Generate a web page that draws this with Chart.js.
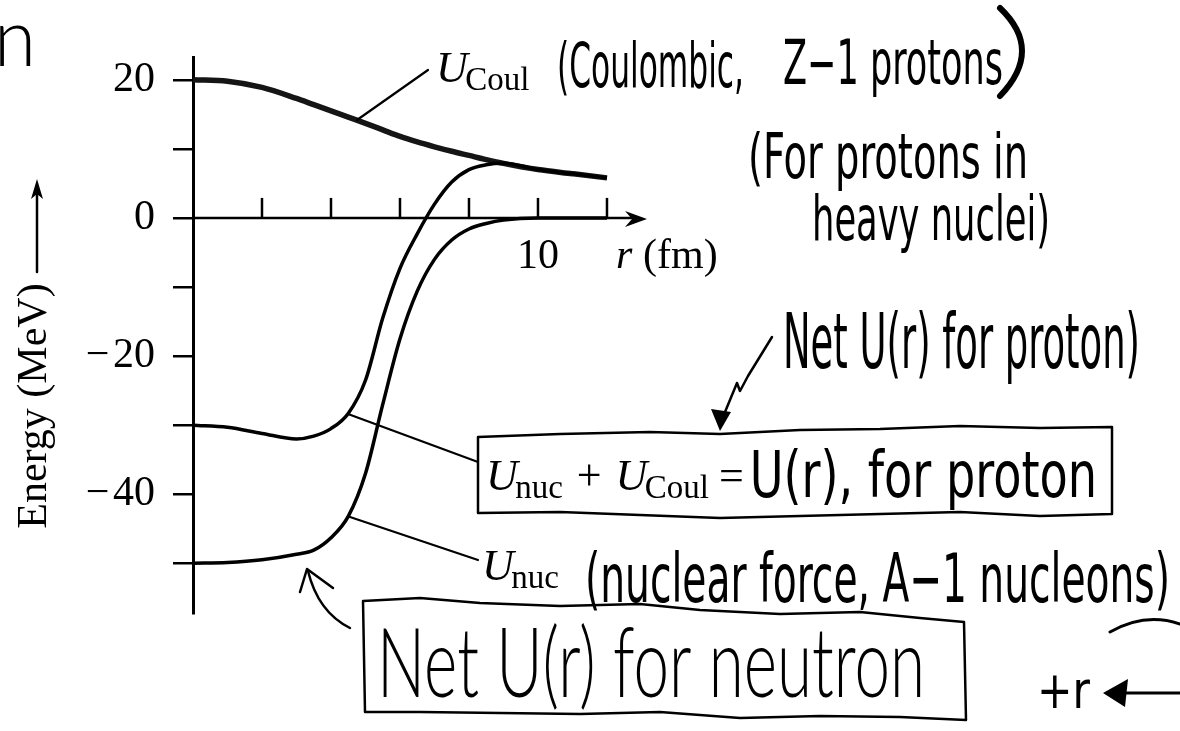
<!DOCTYPE html>
<html>
<head>
<meta charset="utf-8">
<title>Nuclear potential for a proton</title>
<script src="https://cdn.jsdelivr.net/npm/chart.js@4.4.1/dist/chart.umd.min.js"></script>
<style>
html, body { margin: 0; padding: 0; background: #fff; }
#wrap { width: 1180px; height: 731px; }
</style>
</head>
<body>
<div id="wrap"><canvas id="potChart" width="1180" height="731"></canvas></div>
<script>
// radius samples in fm, shared by the three curves
const rValues    = [0, 1, 2, 3, 3.5, 4, 4.5, 5, 5.5, 6, 6.5, 7, 7.5, 8, 8.5, 9, 10, 11, 12];
// energies in MeV
const uCoul      = [20, 19.8, 18.9, 17.3, 16.4, 15.5, 14.6, 13.7, 12.75, 11.8, 11.0, 10.3, 9.65, 9.05, 8.45, 7.9, 7.0, 6.4, 5.8];
const uNuc       = [-50, -49.9, -49.5, -48.7, -48.1, -46.3, -43.2, -37.0, -27.0, -17.5, -10.6, -6.0, -3.2, -1.6, -0.8, -0.3, 0, 0, 0];
const uNetProton = [-30, -30.3, -31.2, -32.0, -31.6, -30.5, -28.3, -23.5, -14.5, -7.3, -2.3, 2.0, 5.2, 7.0, 7.7, 7.9, 7.0, 6.4, 5.8];

const yTickValues = [-50, -40, -30, -20, -10, 0, 10, 20];
const yTickLabels = { '20': '20', '0': '0', '-20': '\u2212\u200a20', '-40': '\u2212\u200a40' };
const xTickValues = [2, 4, 6, 8, 10, 12];
const xTickLabels = { '10': '10' };

const SERIF = '"Liberation Serif", "DejaVu Serif", serif';
const HAND = '"Liberation Sans Narrow", "DejaVu Sans Condensed", sans-serif';

const toPoints = ys => rValues.map((r, i) => ({ x: r, y: ys[i] }));

// handwriting: squeeze the text into a given width
function hand(ctx, text, x, base, width, size, weight, family) {
  ctx.save();
  ctx.font = (weight || 400) + ' ' + size + 'px ' + (family || HAND);
  const w = ctx.measureText(text).width;
  ctx.translate(x, base);
  ctx.scale(width / w, 1);
  ctx.textAlign = 'left';
  ctx.textBaseline = 'alphabetic';
  ctx.fillText(text, 0, 0);
  ctx.restore();
}

// italic U with roman subscript, returns the x where it ends
function uSym(ctx, x, base, sub, size) {
  ctx.textAlign = 'left';
  ctx.textBaseline = 'alphabetic';
  ctx.font = 'italic ' + size + 'px ' + SERIF;
  ctx.fillText('U', x, base);
  const sx = x + ctx.measureText('U').width - size * 0.06;
  ctx.font = Math.round(size * 0.75) + 'px ' + SERIF;
  ctx.fillText(sub, sx, base + size * 0.18);
  return sx + ctx.measureText(sub).width;
}

function poly(ctx, pts, close) {
  ctx.beginPath();
  ctx.moveTo(pts[0][0], pts[0][1]);
  for (let i = 1; i < pts.length; i++) ctx.lineTo(pts[i][0], pts[i][1]);
  if (close) ctx.closePath();
  ctx.stroke();
}

// r axis drawn through U = 0, with ticks pointing up and an arrow
const rAxis = {
  id: 'rAxis',
  beforeDatasetsDraw(chart) {
    const { ctx, scales: { x, y } } = chart;
    const y0 = y.getPixelForValue(0);
    const x0 = x.getPixelForValue(0);
    const xEnd = x.getPixelForValue(x.max);
    ctx.save();
    ctx.strokeStyle = '#000';
    ctx.fillStyle = '#000';
    ctx.lineWidth = 2.5;
    ctx.beginPath();
    ctx.moveTo(x0, y0);
    ctx.lineTo(xEnd - 8, y0);
    ctx.stroke();
    ctx.beginPath();
    ctx.moveTo(xEnd, y0 + 1);
    ctx.lineTo(xEnd - 22, y0 - 7);
    ctx.lineTo(xEnd - 15, y0 + 1);
    ctx.lineTo(xEnd - 22, y0 + 9);
    ctx.closePath();
    ctx.fill();

    ctx.lineWidth = 2.5;
    ctx.font = '42px ' + SERIF;
    ctx.textAlign = 'center';
    ctx.textBaseline = 'alphabetic';
    xTickValues.forEach(v => {
      const px = x.getPixelForValue(v);
      ctx.beginPath();
      ctx.moveTo(px, y0);
      ctx.lineTo(px, y0 - 20);
      ctx.stroke();
      if (xTickLabels[v]) ctx.fillText(xTickLabels[v], px, y0 + 50);
    });

    // axis name
    ctx.textAlign = 'left';
    ctx.font = 'italic 42px ' + SERIF;
    ctx.fillText('r', 616, y0 + 50);
    ctx.font = '42px ' + SERIF;
    ctx.fillText('(fm)', 643, y0 + 50);
    ctx.restore();
  }
};

// energy axis title, labels and the pencil notes
const notes = {
  id: 'notes',
  afterDraw(chart) {
    const ctx = chart.ctx;
    ctx.save();
    ctx.fillStyle = '#000';
    ctx.strokeStyle = '#000';
    ctx.lineCap = 'round';
    ctx.lineJoin = 'round';

    // Energy (MeV) with arrow
    ctx.save();
    ctx.translate(46, 406);
    ctx.rotate(-Math.PI / 2);
    ctx.font = '42px ' + SERIF;
    ctx.textAlign = 'center';
    ctx.fillText('Energy (MeV)', 0, 0);
    ctx.restore();
    ctx.lineWidth = 2.5;
    poly(ctx, [[37, 272], [37, 190]]);
    ctx.beginPath();
    ctx.moveTo(37, 179); ctx.lineTo(31, 199); ctx.lineTo(37, 194); ctx.lineTo(43, 199);
    ctx.closePath(); ctx.fill();

    // leader lines
    ctx.lineWidth = 2.2;
    poly(ctx, [[357, 120], [428, 70]]);
    poly(ctx, [[348, 414], [478, 462]]);
    poly(ctx, [[350, 517], [478, 560]]);

    // printed labels
    uSym(ctx, 436, 82, 'Coul', 44);
    uSym(ctx, 482, 580, 'nuc', 44);

    // box: U_nuc + U_Coul = U(r), for proton
    let ex = uSym(ctx, 486, 490, 'nuc', 44);
    ctx.font = '44px ' + SERIF;
    ctx.fillText('+', ex + 14, 490);
    ex = uSym(ctx, ex + 14 + ctx.measureText('+').width + 14, 490, 'Coul', 44);
    ctx.font = '44px ' + SERIF;
    ctx.fillText('=', ex + 10, 490);
    ex += 10 + ctx.measureText('=').width + 6;
    hand(ctx, 'U(r), for proton', ex, 497, 1097 - ex, 64);
    ctx.lineWidth = 2.5;
    poly(ctx, [[478, 437], [560, 434], [650, 432], [720, 434], [800, 430], [880, 429], [960, 426], [1040, 428], [1112, 427],
               [1112, 514], [1040, 516], [960, 512], [880, 514], [800, 516], [720, 518], [640, 515], [560, 512], [478, 513]], true);

    // handwritten notes
    hand(ctx, '(Coulombic,', 557, 87, 187, 62);
    hand(ctx, 'Z\u22121 protons', 783, 84, 220, 62);
    ctx.lineWidth = 6;
    ctx.beginPath();
    ctx.moveTo(1000, 8);
    ctx.quadraticCurveTo(1044, 50, 1000, 96);
    ctx.stroke();

    hand(ctx, '(For protons in', 748, 178, 280, 62);
    hand(ctx, 'heavy nuclei)', 812, 240, 238, 62);
    hand(ctx, 'Net U(r) for proton)', 783, 368, 357, 76);

    // squiggle arrow down to the proton box
    ctx.lineWidth = 2.5;
    poly(ctx, [[772, 337], [748, 376], [740, 391], [737, 383], [725, 412]]);
    ctx.beginPath();
    ctx.moveTo(720, 431); ctx.lineTo(711, 409); ctx.lineTo(731, 412);
    ctx.closePath(); ctx.fill();

    hand(ctx, '(nuclear force, A\u22121 nucleons)', 585, 602, 585, 68);

    // curved arrow pointing at the neutron well
    ctx.lineWidth = 2.5;
    ctx.beginPath();
    ctx.moveTo(350, 628);
    ctx.quadraticCurveTo(318, 612, 308, 571);
    ctx.stroke();
    poly(ctx, [[300, 592], [307, 569], [333, 588]]);

    // box: Net U(r) for neutron
    hand(ctx, 'Net U(r) for neutron', 377, 697, 548, 96, 300, 'Lato, "DejaVu Sans", sans-serif');
    ctx.lineWidth = 2.5;
    poly(ctx, [[363, 601], [420, 598], [480, 603], [560, 606], [640, 604], [700, 610], [780, 614], [860, 612], [920, 618], [964, 622],
               [966, 720], [900, 717], [820, 716], [740, 718], [660, 712], [580, 714], [500, 713], [420, 712], [365, 712]], true);

    // +r with arrow, lower right
    hand(ctx, '+r', 1037, 708, 53, 52);
    ctx.lineWidth = 3;
    poly(ctx, [[1180, 693], [1120, 693]]);
    ctx.beginPath();
    ctx.moveTo(1103, 693); ctx.lineTo(1128, 679); ctx.lineTo(1125, 707);
    ctx.closePath(); ctx.fill();
    ctx.beginPath();
    ctx.moveTo(1110, 632);
    ctx.quadraticCurveTo(1145, 612, 1180, 624);
    ctx.stroke();

    // stray letter at the top left edge
    hand(ctx, 'n', -6, 66, 42, 80, 300, 'Lato, "DejaVu Sans", sans-serif');
    ctx.restore();
  }
};

new Chart(document.getElementById('potChart'), {
  type: 'line',
  data: {
    datasets: [
      { label: 'U_nuc', data: toPoints(uNuc), borderColor: '#000', borderWidth: 3.5 },
      { label: 'U_nuc + U_Coul', data: toPoints(uNetProton), borderColor: '#000', borderWidth: 3.5 },
      { label: 'U_Coul', data: toPoints(uCoul), borderColor: '#151515', borderWidth: 5.5 }
    ]
  },
  options: {
    responsive: false,
    animation: false,
    devicePixelRatio: 1,
    layout: { padding: { left: 0, top: 57, right: 533, bottom: 118 } },
    elements: {
      point: { radius: 0 },
      line: { cubicInterpolationMode: 'monotone', fill: false }
    },
    plugins: { legend: { display: false }, tooltip: { enabled: false } },
    scales: {
      x: { type: 'linear', min: 0, max: 13.16, display: false },
      y: {
        min: -57.2,
        max: 23.3,
        afterFit: s => { s.width = 193; },
        afterBuildTicks: s => { s.ticks = yTickValues.map(v => ({ value: v })); },
        border: { display: true, color: '#000', width: 3 },
        grid: { drawOnChartArea: false, drawTicks: true, tickLength: 20, color: '#000', lineWidth: 2.5 },
        ticks: {
          callback: v => yTickLabels[v] || '',
          color: '#000',
          padding: 18,
          font: { family: SERIF, size: 42 }
        }
      }
    }
  },
  plugins: [rAxis, notes]
});
</script>
</body>
</html>
